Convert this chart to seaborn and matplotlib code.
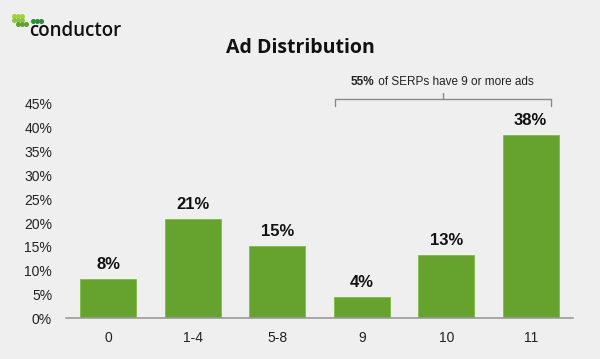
import matplotlib
matplotlib.use("Agg")
import matplotlib.pyplot as plt
import seaborn as sns
import pandas as pd

# Daten
categories = ["0", "1-4", "5-8", "9", "10", "11"]
shares = [8.2, 20.8, 15.1, 4.4, 13.3, 38.5]
labels = ["8%", "21%", "15%", "4%", "13%", "38%"]
y_ticks = [0, 5, 10, 15, 20, 25, 30, 35, 40, 45]

df = pd.DataFrame({"ads": categories, "share": shares})

sns.set_theme(style="white")
plt.rcParams["font.family"] = ["Liberation Sans", "DejaVu Sans"]

bg = "#efefef"
green = "#65a32e"

fig = plt.figure(figsize=(6, 3.59), dpi=100, facecolor=bg)
ax = fig.add_axes([0.11, 0.1134, 0.845, 0.597])
ax.set_facecolor(bg)

sns.barplot(data=df, x="ads", y="share", order=categories, color=green,
            width=0.66, edgecolor="#7dbb45", linewidth=0.6, saturation=1, ax=ax)

ax.set_ylim(0, 45)
ax.set_xlim(-0.5, len(categories) - 0.5)
ax.set_yticks(y_ticks)
ax.set_yticklabels([f"{t}%" for t in y_ticks])
ax.set_xlabel("")
ax.set_ylabel("")
ax.tick_params(axis="y", length=0, pad=10, labelsize=10, colors="#222222")
ax.tick_params(axis="x", length=0, pad=9, labelsize=10, colors="#222222")

for s in ["top", "right", "left"]:
    ax.spines[s].set_visible(False)
ax.spines["bottom"].set_color("#9a9a9a")
ax.spines["bottom"].set_linewidth(1.2)

# Werte über die Balken
for p, lab in zip(ax.patches, labels):
    ax.annotate(lab, (p.get_x() + p.get_width() / 2, p.get_height()),
                xytext=(0, 5), textcoords="offset points",
                ha="center", va="bottom", fontsize=12, fontweight="bold",
                color="#111111")

# Titel
fig.text(0.5, 0.866, "Ad Distribution", ha="center", va="center",
         fontsize=14, fontweight="bold", family=["Open Sans", "DejaVu Sans"],
         color="#111111")

# Klammer über 9, 10, 11
x0, x1 = 335 / 600, 551 / 600
yb, yt = 1 - 106 / 359, 1 - 99 / 359
xm = (x0 + x1) / 2
fig.add_artist(plt.Line2D([x0, x0, x1, x1], [yb, yt, yt, yb], color="#8a8a8a", lw=1.0))
fig.add_artist(plt.Line2D([xm, xm], [yt, 1 - 93 / 359], color="#8a8a8a", lw=1.0))
t1 = fig.text(351 / 600, 1 - 82 / 359, "55%", ha="left", va="center",
              fontsize=8.5, fontweight="bold", color="#222222")
ax.annotate(" of SERPs have 9 or more ads", xy=(1, 0.5), xycoords=t1,
            ha="left", va="center", fontsize=8.5, color="#222222",
            annotation_clip=False)

# Logo
logo_dots = [(14, 16, "#a5d23c"), (18, 16, "#a5d23c"), (22, 16, "#a5d23c"),
             (14, 20, "#8cc63f"), (18, 20, "#8cc63f"), (22, 20, "#8cc63f"),
             (18, 24, "#5aa532"), (22, 24, "#5aa532"), (26, 24, "#5aa532"),
             (33, 21, "#2e8b3a"), (37, 21, "#2e8b3a"), (41, 21, "#2e8b3a")]
for dx, dy, c in logo_dots:
    fig.add_artist(plt.Line2D([dx / 600], [1 - dy / 359], marker="o", ms=2.6,
                              color=c, lw=0))
fig.text(29 / 600, 1 - 31 / 359, "conductor", ha="left", va="center",
         fontsize=13.5, fontweight="semibold", color="#111111",
         family=["Open Sans", "DejaVu Sans"])

fig.savefig("out.png", dpi=100, facecolor=bg)
